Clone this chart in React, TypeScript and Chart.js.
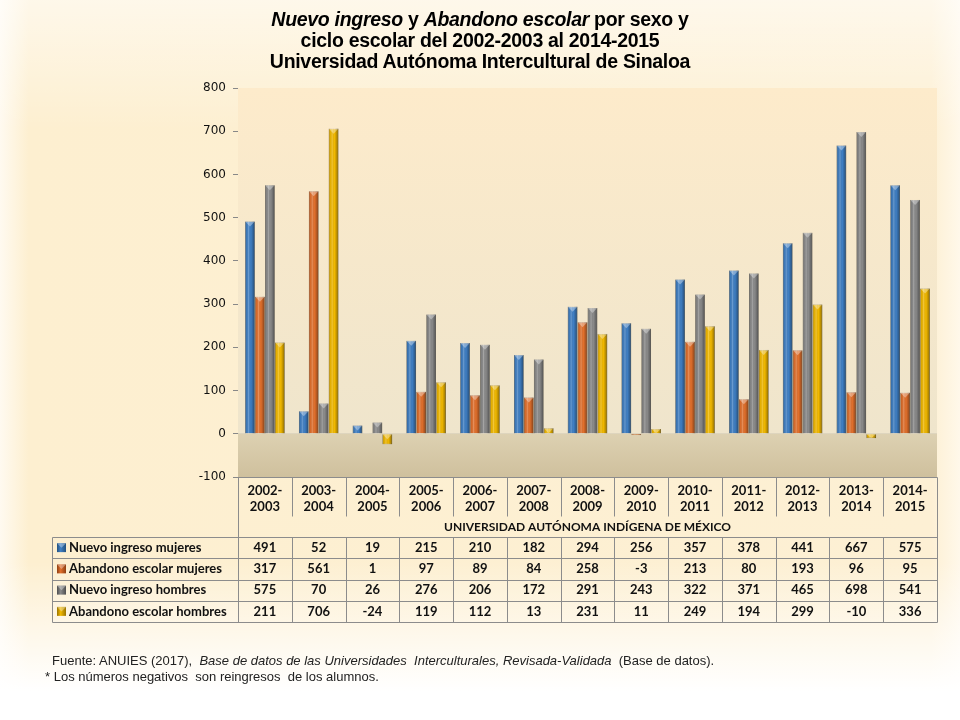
import React, { useEffect, useRef } from "react";
import { Chart, registerables } from "chart.js";

Chart.register(...registerables);

const categories = [
  "2002-2003", "2003-2004", "2004-2005", "2005-2006", "2006-2007", "2007-2008", "2008-2009",
  "2009-2010", "2010-2011", "2011-2012", "2012-2013", "2013-2014", "2014-2015",
];
const nuevoIngresoMujeres = [491, 52, 19, 215, 210, 182, 294, 256, 357, 378, 441, 667, 575];
const abandonoMujeres = [317, 561, 1, 97, 89, 84, 258, -3, 213, 80, 193, 96, 95];
const nuevoIngresoHombres = [575, 70, 26, 276, 206, 172, 291, 243, 322, 371, 465, 698, 541];
const abandonoHombres = [211, 706, -24, 119, 112, 13, 231, 11, 249, 194, 299, -10, 336];
const seriesLabels = [
  "Nuevo ingreso mujeres",
  "Abandono escolar mujeres",
  "Nuevo ingreso hombres",
  "Abandono escolar hombres",
];
const seriesColors = ["#3f7fc4", "#e2702c", "#8a8a8a", "#f2b900"];
const seriesDark = ["#24517f", "#8f3f12", "#4f4f4f", "#9a7400"];
const yMin = -100;
const yMax = 800;
const yStep = 100;
const tableTitle = "UNIVERSIDAD AUTÓNOMA INDÍGENA DE MÉXICO";
const footLine1a = "Fuente: ANUIES (2017),  ";
const footLine1b = "Base de datos de las Universidades  Interculturales, Revisada-Validada";
const footLine1c = "  (Base de datos).";
const footLine2 = "* Los números negativos  son reingresos  de los alumnos.";

const seriesData = [nuevoIngresoMujeres, abandonoMujeres, nuevoIngresoHombres, abandonoHombres];

const TABLE_LEFT = 52;
const YEAR_ROW_H = 39;
const UNIV_ROW_H = 21;
const DATA_ROW_H = 21.25;
const LINE_COLOR = "#8c8c8c";
const TABLE_FONT = "bold 13px Lato";

const plotBgPlugin = {
  id: "plotBg",
  beforeDatasetsDraw(chart: any) {
    const { ctx, chartArea, scales } = chart;
    const { left, right, top, bottom } = chartArea;
    const zero = scales.y.getPixelForValue(0);
    ctx.save();
    const g1 = ctx.createLinearGradient(0, top, 0, zero);
    g1.addColorStop(0, "#fdebcb");
    g1.addColorStop(1, "#efe5cc");
    ctx.fillStyle = g1;
    ctx.fillRect(left, top, right - left, zero - top);
    const g2 = ctx.createLinearGradient(0, zero, 0, bottom);
    g2.addColorStop(0, "#ddd1b2");
    g2.addColorStop(1, "#cfc09d");
    ctx.fillStyle = g2;
    ctx.fillRect(left, zero, right - left, bottom - zero);
    ctx.restore();
  },
};

const barShadePlugin = {
  id: "barShade",
  afterDatasetsDraw(chart: any) {
    const { ctx, chartArea } = chart;
    ctx.save();
    ctx.beginPath();
    ctx.rect(chartArea.left, chartArea.top, chartArea.right - chartArea.left, chartArea.bottom - chartArea.top);
    ctx.clip();
    chart.getSortedVisibleDatasetMetas().forEach((meta: any) => {
      meta.data.forEach((el: any) => {
        const { x, y, base, width } = el.getProps(["x", "y", "base", "width"], true);
        const l = x - width / 2;
        const t = Math.min(y, base);
        const b = Math.max(y, base);
        const h = b - t;
        const g = ctx.createLinearGradient(l, 0, l + width, 0);
        g.addColorStop(0, "rgba(0,0,0,0.30)");
        g.addColorStop(0.15, "rgba(0,0,0,0.05)");
        g.addColorStop(0.35, "rgba(255,255,255,0.22)");
        g.addColorStop(0.6, "rgba(0,0,0,0.0)");
        g.addColorStop(0.85, "rgba(0,0,0,0.25)");
        g.addColorStop(1, "rgba(0,0,0,0.45)");
        ctx.fillStyle = g;
        ctx.fillRect(l, t, width, h);
        if (h >= 3) {
          const th = Math.min(5, h);
          ctx.beginPath();
          ctx.moveTo(l, t);
          ctx.lineTo(l + width, t);
          ctx.lineTo(x, t + th);
          ctx.closePath();
          ctx.fillStyle = "rgba(255,255,255,0.35)";
          ctx.fill();
        }
      });
    });
    ctx.restore();
  },
};

function drawMarker(ctx: any, x: number, y: number, i: number) {
  const s = 9;
  const g = ctx.createLinearGradient(x, 0, x + s, 0);
  g.addColorStop(0, seriesDark[i]);
  g.addColorStop(0.4, seriesColors[i]);
  g.addColorStop(1, seriesDark[i]);
  ctx.fillStyle = g;
  ctx.fillRect(x, y - s / 2, s, s);
  ctx.beginPath();
  ctx.moveTo(x, y - s / 2);
  ctx.lineTo(x + s, y - s / 2);
  ctx.lineTo(x + s / 2, y);
  ctx.closePath();
  ctx.fillStyle = "rgba(255,255,255,0.35)";
  ctx.fill();
}

const tablePlugin = {
  id: "dataTable",
  afterDraw(chart: any) {
    const { ctx, chartArea, scales } = chart;
    const { left, right, bottom } = chartArea;
    const xs = scales.x;
    const n = categories.length;
    const colW = (right - left) / n;
    const yearTop = bottom;
    const univTop = yearTop + YEAR_ROW_H;
    const dataTop = univTop + UNIV_ROW_H;
    const dataBottom = dataTop + DATA_ROW_H * seriesLabels.length;
    const px = (v: number) => Math.round(v) + 0.5;

    ctx.save();
    ctx.strokeStyle = LINE_COLOR;
    ctx.lineWidth = 1;
    const line = (x1: number, y1: number, x2: number, y2: number) => {
      ctx.beginPath();
      ctx.moveTo(px(x1), px(y1));
      ctx.lineTo(px(x2), px(y2));
      ctx.stroke();
    };
    line(left, yearTop, right, yearTop);
    line(left, yearTop, left, dataBottom);
    line(right, yearTop, right, dataBottom);
    line(TABLE_LEFT, dataTop, TABLE_LEFT, dataBottom);
    for (let i = 1; i < n; i++) {
      const bx = left + colW * i;
      line(bx, yearTop, bx, univTop);
      line(bx, dataTop, bx, dataBottom);
    }
    for (let r = 0; r <= seriesLabels.length; r++) {
      const ry = dataTop + DATA_ROW_H * r;
      line(TABLE_LEFT, ry, right, ry);
    }

    ctx.fillStyle = "#111";
    ctx.font = TABLE_FONT;
    ctx.textAlign = "center";
    ctx.textBaseline = "middle";
    categories.forEach((c, i) => {
      const cx = xs.getPixelForValue(i);
      const parts = c.split("-");
      ctx.fillText(parts[0] + "-", cx, yearTop + 14);
      ctx.fillText(parts[1], cx, yearTop + 30);
    });
    ctx.font = "bold 12px Lato";
    ctx.fillText(tableTitle, (left + right) / 2, univTop + UNIV_ROW_H / 2 + 0.5);

    ctx.font = TABLE_FONT;
    seriesLabels.forEach((lab, r) => {
      const cy = dataTop + DATA_ROW_H * r + DATA_ROW_H / 2;
      drawMarker(ctx, TABLE_LEFT + 5, cy, r);
      ctx.fillStyle = "#111";
      ctx.textAlign = "left";
      ctx.fillText(lab, TABLE_LEFT + 17, cy);
      ctx.textAlign = "center";
      seriesData[r].forEach((v, i) => {
        ctx.fillText(String(v), xs.getPixelForValue(i), cy);
      });
    });
    ctx.restore();
  },
};

export default function App() {
  const canvasRef = useRef<HTMLCanvasElement | null>(null);

  useEffect(() => {
    if (!canvasRef.current) return;
    const chart = new Chart(canvasRef.current, {
      type: "bar",
      data: {
        labels: categories,
        datasets: seriesLabels.map((label, i) => ({
          label,
          data: seriesData[i],
          backgroundColor: seriesColors[i],
          borderColor: seriesDark[i],
          borderWidth: 0.5,
          categoryPercentage: 0.74,
          barPercentage: 0.96,
        })),
      },
      options: {
        animation: false,
        responsive: false,
        maintainAspectRatio: false,
        devicePixelRatio: 1,
        layout: { padding: { left: 0, right: 23, top: 88, bottom: 243 } },
        plugins: {
          legend: { display: false },
          title: { display: false },
          tooltip: { enabled: false },
        },
        scales: {
          x: { display: false },
          y: {
            min: yMin,
            max: yMax,
            afterFit(scale: any) {
              scale.width = 238;
            },
            ticks: {
              stepSize: yStep,
              color: "#111",
              font: { family: "DejaVu Sans", size: 12 },
              padding: 7,
            },
            grid: {
              drawOnChartArea: true,
              color: (c: any) => (c.tick && c.tick.value === 0 ? "#a0a0a0" : "rgba(0,0,0,0)"),
              tickColor: "#888",
              tickLength: 5,
            },
            border: { display: true, color: "#888", width: 1 },
          },
        },
      },
      plugins: [plotBgPlugin, barShadePlugin, tablePlugin],
    });
    return () => chart.destroy();
  }, []);

  return (
    <div
      style={{
        position: "fixed",
        left: 0,
        top: 0,
        width: 960,
        height: 720,
        overflow: "hidden",
        background:
          "linear-gradient(to bottom, rgba(255,255,255,0.55) 0%, rgba(255,255,255,0) 18%, rgba(255,255,255,0) 78%, #ffffff 96%), linear-gradient(to right, #fffaf0 0%, #fdefd0 3%, #fdf0d4 97%, #fff8ea 100%)",
      }}
    >
      <canvas ref={canvasRef} width={960} height={720} style={{ position: "absolute", left: 0, top: 0, width: 960, height: 720 }} />
      <div
        style={{
          position: "absolute",
          left: 0,
          top: 9,
          width: 960,
          textAlign: "center",
          fontFamily: "'Liberation Sans', Arial, sans-serif",
          fontWeight: "bold",
          fontSize: 19.5,
          lineHeight: "21px",
          color: "#000",
          letterSpacing: "-0.3px",
        }}
      >
        <div>
          <i>Nuevo ingreso</i> y <i>Abandono escolar</i> por sexo y
        </div>
        <div>ciclo escolar del 2002-2003 al 2014-2015</div>
        <div>Universidad Autónoma Intercultural de Sinaloa</div>
      </div>
      <div
        style={{
          position: "absolute",
          left: 52,
          top: 653,
          fontFamily: "'Liberation Sans', Arial, sans-serif",
          fontSize: 13,
          lineHeight: "16px",
          color: "#222",
          whiteSpace: "pre",
        }}
      >
        {footLine1a}
        <i>{footLine1b}</i>
        {footLine1c}
      </div>
      <div
        style={{
          position: "absolute",
          left: 45,
          top: 669,
          fontFamily: "'Liberation Sans', Arial, sans-serif",
          fontSize: 13,
          lineHeight: "16px",
          color: "#222",
          whiteSpace: "pre",
        }}
      >
        {footLine2}
      </div>
    </div>
  );
}
